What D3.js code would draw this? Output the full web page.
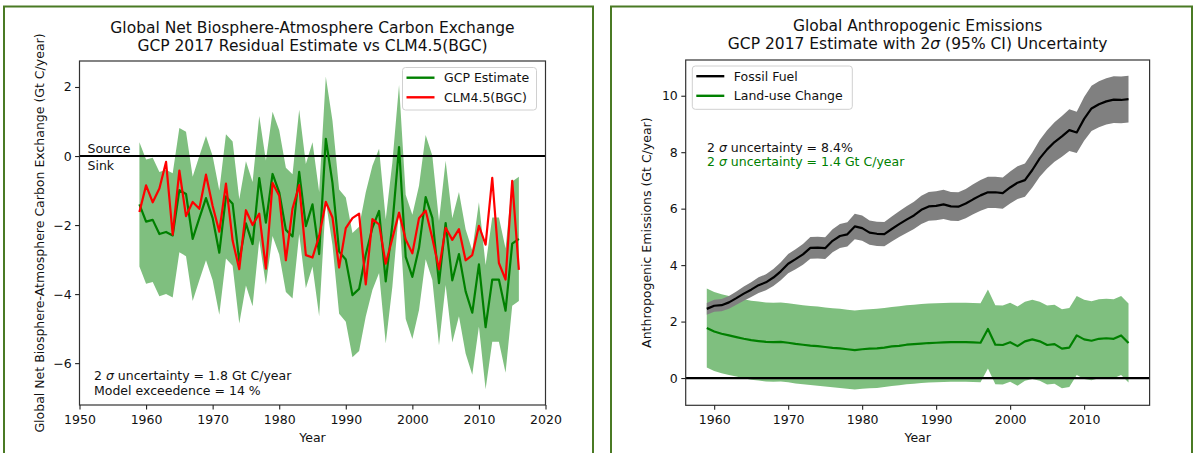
<!DOCTYPE html>
<html><head><meta charset="utf-8">
<script src="https://cdn.jsdelivr.net/npm/d3@7"></script>
<style>
body{margin:0;background:#fff}
svg{display:block}
text{font-family:"DejaVu Sans",sans-serif;fill:#111}
</style>
</head><body>
<svg id="chart" width="1200" height="453"></svg>
<script>
// ---------- DATA ----------
const years = [1959,1960,1961,1962,1963,1964,1965,1966,1967,1968,1969,1970,1971,1972,1973,1974,1975,1976,1977,1978,1979,
  1980,1981,1982,1983,1984,1985,1986,1987,1988,1989,1990,1991,1992,1993,1994,1995,1996,1997,1998,1999,
  2000,2001,2002,2003,2004,2005,2006,2007,2008,2009,2010,2011,2012,2013,2014,2015,2016];

const gcpEstimate = [-1.40,-1.90,-1.85,-2.26,-2.20,-2.30,-0.99,-1.10,-2.40,-1.80,-1.22,-1.80,-2.80,-1.17,-1.38,-3.05,-1.95,-2.55,-0.64,-1.93,-0.52,
  -1.05,-2.14,-2.33,-0.46,-2.03,-1.40,-2.84,0.50,-0.78,-2.77,-3.00,-4.03,-3.85,-2.85,-2.08,-1.59,-3.63,-1.98,0.26,-2.92,
  -3.50,-2.66,-1.19,-1.79,-3.68,-1.94,-3.60,-2.84,-3.92,-4.54,-3.14,-4.96,-3.58,-3.58,-4.48,-2.54,-2.40];

const clm45 = [-1.62,-0.85,-1.34,-0.94,-0.17,-2.28,-0.42,-1.74,-1.33,-1.53,-0.54,-1.45,-2.19,-0.80,-2.45,-3.28,-1.57,-2.00,-1.67,-3.26,-0.78,
  -1.15,-3.02,-1.52,-0.84,-2.87,-2.94,-2.32,-1.33,-1.78,-3.23,-2.09,-1.80,-1.67,-3.72,-1.83,-1.98,-3.12,-2.38,-1.64,-2.42,
  -2.82,-1.80,-1.58,-2.38,-3.28,-2.08,-2.43,-2.12,-3.02,-2.87,-2.02,-2.57,-0.63,-3.10,-3.58,-0.72,-3.30];

const fossilFuel = [2.45,2.56,2.58,2.68,2.83,2.99,3.13,3.29,3.39,3.56,3.78,4.05,4.21,4.38,4.61,4.62,4.60,4.86,5.03,5.09,5.37,
  5.31,5.15,5.11,5.10,5.28,5.45,5.61,5.76,5.96,6.08,6.10,6.15,6.08,6.07,6.18,6.33,6.47,6.58,6.58,6.55,
  6.75,6.92,7.01,7.37,7.78,8.10,8.36,8.56,8.78,8.70,9.18,9.55,9.70,9.80,9.86,9.85,9.88];

const landUse = [1.77,1.65,1.57,1.51,1.45,1.39,1.34,1.31,1.28,1.27,1.28,1.25,1.21,1.18,1.15,1.13,1.10,1.07,1.05,1.02,0.99,
  1.02,1.04,1.05,1.08,1.12,1.14,1.18,1.20,1.22,1.24,1.25,1.26,1.27,1.27,1.27,1.26,1.25,1.74,1.18,1.17,
  1.27,1.13,1.30,1.37,1.30,1.17,1.20,1.04,1.08,1.51,1.37,1.32,1.39,1.41,1.39,1.51,1.24];

// stated 2-sigma uncertainties (shown in the chart annotations)
const gcpUncertainty = 1.8;     // Gt C/year
const fossilUncertainty = 0.084; // fraction
const landUseUncertainty = 1.4; // Gt C/year

const leftXTicks = [1950,1960,1970,1980,1990,2000,2010,2020];
const leftYTicks = [-6,-4,-2,0,2];
const rightXTicks = [1960,1970,1980,1990,2000,2010];
const rightYTicks = [0,2,4,6,8,10];

// ---------- DRAW ----------
const svg = d3.select("#chart");
svg.append("rect").attr("width",1200).attr("height",453).attr("fill","#fff");

const GREEN = "#008000", BAND_GREEN = "rgb(127,191,127)", RED = "#ff0000", GREY = "#808080";
const FS = 12.5, TFS = 15.5, LW = 2.2;

// panel frames
svg.append("rect").attr("x",4).attr("y",6.5).attr("width",589).attr("height",460)
  .attr("fill","none").attr("stroke","#4a7a24").attr("stroke-width",2);
svg.append("rect").attr("x",611).attr("y",6.5).attr("width",581).attr("height",460)
  .attr("fill","none").attr("stroke","#4a7a24").attr("stroke-width",2);

function pad(lo, hi){ const r = hi-lo; return [lo-0.05*r, hi+0.05*r]; }

function axes(g, x, y, xt, yt, box){
  g.append("g").attr("transform",`translate(0,${box.b})`)
    .call(d3.axisBottom(x).tickValues(xt).tickFormat(d3.format("d")).tickSize(4.4).tickPadding(5.6))
    .call(s=>{s.select(".domain").remove(); s.selectAll("line").attr("stroke","#222").attr("stroke-width",1.1);
      s.selectAll("text").attr("font-size",FS).attr("font-family","DejaVu Sans").attr("fill","#111");});
  g.append("g").attr("transform",`translate(${box.l},0)`)
    .call(d3.axisLeft(y).tickValues(yt).tickFormat(d3.format("d")).tickSize(4.4).tickPadding(3.5))
    .call(s=>{s.select(".domain").remove(); s.selectAll("line").attr("stroke","#222").attr("stroke-width",1.1);
      s.selectAll("text").attr("font-size",FS).attr("font-family","DejaVu Sans").attr("fill","#111");});
}
function frame(g, box){
  g.append("rect").attr("x",box.l).attr("y",box.t).attr("width",box.r-box.l).attr("height",box.b-box.t)
    .attr("fill","none").attr("stroke","#333").attr("stroke-width",1.2);
}
function legend(g, x0, y0, w, h, items){
  g.append("rect").attr("x",x0).attr("y",y0).attr("width",w).attr("height",h).attr("rx",3)
    .attr("fill","#fff").attr("fill-opacity",0.8).attr("stroke","#d0d0d0").attr("stroke-width",1);
  items.forEach((it,i)=>{
    const cy = y0 + 10.2 + i*19.6;
    g.append("line").attr("x1",x0+4).attr("x2",x0+32).attr("y1",cy).attr("y2",cy)
      .attr("stroke",it.color).attr("stroke-width",LW+0.2);
    g.append("text").attr("x",x0+41.5).attr("y",cy+4.5).attr("font-size",FS).text(it.label);
  });
}
function sigmaText(g, x, y, rest, color){
  const t = g.append("text").attr("x",x).attr("y",y).attr("font-size",FS).style("fill",color);
  t.append("tspan").text("2 ");
  t.append("tspan").attr("font-style","italic").text("σ");
  t.append("tspan").text(rest);
}

// ===== LEFT PANEL =====
{
  const box = {l:79.5, r:545.5, t:61, b:405};
  const lower = gcpEstimate.map(v=>v-gcpUncertainty), upper = gcpEstimate.map(v=>v+gcpUncertainty);
  const x = d3.scaleLinear().domain([leftXTicks[0], leftXTicks[leftXTicks.length-1]]).range([box.l, box.r]);
  const y = d3.scaleLinear().domain(pad(d3.min(lower), d3.max(upper))).range([box.b, box.t]);
  const g = svg.append("g");

  g.append("path").datum(years.map((yr,i)=>[yr,lower[i],upper[i]]))
    .attr("d", d3.area().x(d=>x(d[0])).y0(d=>y(d[1])).y1(d=>y(d[2])))
    .attr("fill",BAND_GREEN);
  g.append("line").attr("x1",box.l).attr("x2",box.r).attr("y1",y(0)).attr("y2",y(0))
    .attr("stroke","#000").attr("stroke-width",2);
  const line = d3.line().x((d,i)=>x(years[i])).y(d=>y(d));
  g.append("path").datum(gcpEstimate).attr("d",line).attr("fill","none").attr("stroke",GREEN)
    .attr("stroke-width",LW).attr("stroke-linejoin","round");
  g.append("path").datum(clm45).attr("d",line).attr("fill","none").attr("stroke",RED)
    .attr("stroke-width",LW).attr("stroke-linejoin","round");

  frame(g, box);
  axes(g, x, y, leftXTicks, leftYTicks, box);

  g.append("text").attr("x",box.l+8).attr("y",y(0)-3.5).attr("font-size",FS).text("Source");
  g.append("text").attr("x",box.l+8).attr("y",y(0)+14).attr("font-size",FS).text("Sink");

  sigmaText(g, 94, 379.5, " uncertainty = 1.8 Gt C/year", "#111");
  g.append("text").attr("x",94).attr("y",395).attr("font-size",FS).text("Model exceedence = 14 %");

  legend(g, 402.5, 67.5, 134, 42.5, [{label:"GCP Estimate",color:GREEN},{label:"CLM4.5(BGC)",color:RED}]);

  const cx = (box.l+box.r)/2;
  g.append("text").attr("x",cx).attr("y",33).attr("text-anchor","middle").attr("font-size",TFS)
    .text("Global Net Biosphere-Atmosphere Carbon Exchange");
  g.append("text").attr("x",cx).attr("y",51).attr("text-anchor","middle").attr("font-size",TFS)
    .text("GCP 2017 Residual Estimate vs CLM4.5(BGC)");
  g.append("text").attr("x",cx).attr("y",442).attr("text-anchor","middle").attr("font-size",FS).text("Year");
  g.append("text").attr("transform",`translate(43.5,${(box.t+box.b)/2}) rotate(-90)`)
    .attr("text-anchor","middle").attr("font-size",FS)
    .text("Global Net Biosphere-Atmosphere Carbon Exchange (Gt C/year)");
}

// ===== RIGHT PANEL =====
{
  const box = {l:685.7, r:1149.6, t:60, b:405.3};
  const ffLo = fossilFuel.map(v=>v*(1-fossilUncertainty)), ffHi = fossilFuel.map(v=>v*(1+fossilUncertainty));
  const luLo = landUse.map(v=>v-landUseUncertainty), luHi = landUse.map(v=>v+landUseUncertainty);
  const x = d3.scaleLinear().domain(pad(years[0], years[years.length-1])).range([box.l, box.r]);
  const y = d3.scaleLinear().domain(pad(d3.min(luLo), d3.max(ffHi))).range([box.b, box.t]);
  const g = svg.append("g");
  const area = (lo,hi)=>d3.area().x((d,i)=>x(years[i])).y0((d,i)=>y(lo[i])).y1((d,i)=>y(hi[i]));

  g.append("path").datum(years).attr("d",area(luLo,luHi)).attr("fill",BAND_GREEN);
  g.append("path").datum(years).attr("d",area(ffLo,ffHi)).attr("fill",GREY);
  g.append("line").attr("x1",box.l).attr("x2",box.r).attr("y1",y(0)).attr("y2",y(0))
    .attr("stroke","#000").attr("stroke-width",2.2);
  const line = d3.line().x((d,i)=>x(years[i])).y(d=>y(d));
  g.append("path").datum(landUse).attr("d",line).attr("fill","none").attr("stroke",GREEN)
    .attr("stroke-width",LW).attr("stroke-linejoin","round");
  g.append("path").datum(fossilFuel).attr("d",line).attr("fill","none").attr("stroke","#000")
    .attr("stroke-width",LW).attr("stroke-linejoin","round");

  frame(g, box);
  axes(g, x, y, rightXTicks, rightYTicks, box);

  sigmaText(g, 707, 151.5, " uncertainty = 8.4%", "#111");
  sigmaText(g, 707, 165.5, " uncertainty = 1.4 Gt C/year", GREEN);

  legend(g, 692.3, 66, 160, 43.3, [{label:"Fossil Fuel",color:"#000"},{label:"Land-use Change",color:GREEN}]);

  const cx = (box.l+box.r)/2;
  g.append("text").attr("x",cx).attr("y",31).attr("text-anchor","middle").attr("font-size",TFS)
    .text("Global Anthropogenic Emissions");
  const t2 = g.append("text").attr("x",cx).attr("y",49).attr("text-anchor","middle").attr("font-size",TFS);
  t2.append("tspan").text("GCP 2017 Estimate with 2");
  t2.append("tspan").attr("font-style","italic").text("σ");
  t2.append("tspan").text(" (95% CI) Uncertainty");
  g.append("text").attr("x",cx).attr("y",442).attr("text-anchor","middle").attr("font-size",FS).text("Year");
  g.append("text").attr("transform",`translate(650.5,${(box.t+box.b)/2}) rotate(-90)`)
    .attr("text-anchor","middle").attr("font-size",FS)
    .text("Anthropogenic Emissions (Gt C/year)");
}
</script>
</body></html>
